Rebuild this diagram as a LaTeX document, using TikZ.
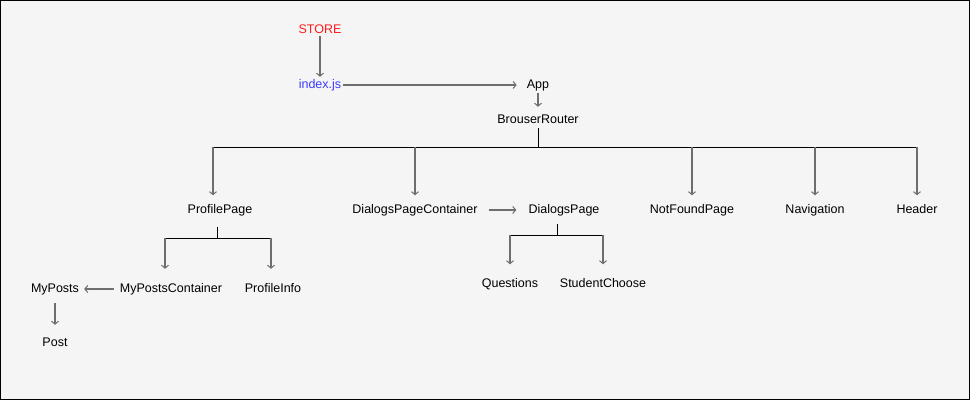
\documentclass[tikz,border=0pt]{standalone}
\usepackage{fontspec}
\setmainfont{Liberation Sans}
\usetikzlibrary{arrows.meta}
\tikzset{>={Straight Barb[length=3pt,width=7pt,line width=1pt]}}
\definecolor{bgcol}{HTML}{F5F5F5}
\definecolor{arrcol}{HTML}{6E6E6E}
\definecolor{jsblue}{HTML}{3B3BFF}
\definecolor{storered}{HTML}{FF1A1A}
\tikzset{
  comp/.style={inner sep=2pt, text height=9pt, text depth=3pt,
    font=\fontsize{12.5}{14}\selectfont},
  flow/.style={->, arrcol, line width=1.4pt},
  tree/.style={black, line width=1pt},
}

\begin{document}
\begin{tikzpicture}[x=1pt,y=-1pt]
  \useasboundingbox (0,0) rectangle (970,400);
  \draw[fill=bgcol, line width=1pt] (0.5,0.5) rectangle (969.5,399.5);

  % top
  \node[comp,storered] (store) at (320,30) {STORE};
  \node[comp,jsblue] (idx) at (320,85) {index.js};
  \node[comp] (app) at (538,85) {App};
  \node[comp] (router) at (538,120) {BrouserRouter};

  \draw[flow, shorten <=-2pt] (store) -- (idx);
  \draw[flow, shorten >=8pt] (idx) -- (app);
  \draw[flow, shorten >=5pt] (app) -- (router);

  % pages
  \node[comp] (profile) at (220,210) {ProfilePage};
  \node[comp] (dpc) at (415,210) {DialogsPageContainer};
  \node[comp] (dialogs) at (564,210) {DialogsPage};
  \node[comp] (notfound) at (692,210) {NotFoundPage};
  \node[comp] (nav) at (815,210) {Navigation};
  \node[comp] (header) at (917,210) {Header};

  \coordinate (rbar) at (538,147);
  \coordinate (rleft) at (213,147);
  \draw[tree] (router) -- (rbar);
  \draw[tree] (rleft) -- (rbar -| header);
  \draw[flow, shorten >=6.5pt] (rleft) -- (rleft |- profile.north);
  \foreach \n in {dpc,notfound,nav,header}
    \draw[flow, shorten >=6.5pt] (rbar -| \n.north) -- (\n.north);

  \draw[flow, shorten <=9pt, shorten >=10pt] (dpc) -- (dialogs);

  % profile
  \node[comp] (mpc) at (171,289) {MyPostsContainer};
  \node[comp] (pinfo) at (273,289) {ProfileInfo};
  \node[comp] (myposts) at (55,289) {MyPosts};
  \node[comp] (post) at (55,343) {Post};

  \coordinate (pbar) at (217,238);
  \coordinate (pl) at (165,238);
  \coordinate (pr) at (271,238);
  \draw[tree, shorten <=8.5pt] (profile.south -| pbar) -- (pbar);
  \draw[tree] (pl) -- (pr);
  \draw[flow, shorten >=12pt] (pl) -- (pl |- mpc.north);
  \draw[flow, shorten >=12pt] (pr) -- (pr |- pinfo.north);

  \draw[flow, shorten <=4pt, shorten >=3pt] (mpc) -- (myposts);
  \draw[flow, shorten <=5.5pt, shorten >=10pt] (myposts) -- (post);

  % dialogs
  \node[comp] (questions) at (510,284) {Questions};
  \node[comp] (student) at (603,284) {StudentChoose};

  \coordinate (dbar) at (557,235);
  \coordinate (dl) at (510,235);
  \coordinate (dr) at (603,235);
  \draw[tree, shorten <=5.5pt] (dialogs.south -| dbar) -- (dbar);
  \draw[tree] (dl) -- (dr);
  \draw[flow, shorten >=11.5pt] (dl) -- (questions.north);
  \draw[flow, shorten >=11.5pt] (dr) -- (student.north);
\end{tikzpicture}
\end{document}
